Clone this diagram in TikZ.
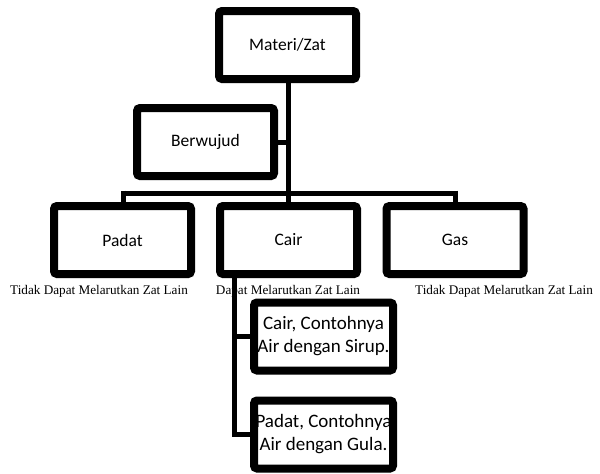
\documentclass[tikz,border=0pt]{standalone}
\usepackage{fontspec}
\setmainfont{Liberation Serif}
\newfontfamily\calfont{Carlito}
\usetikzlibrary{shadows.blur}
\tikzset{
  box/.style={draw=black, fill=white, line width=8pt, rounded corners=3pt,
    minimum width=137pt, minimum height=68pt, inner sep=0pt,
    font=\calfont\fontsize{17.5}{21}\selectfont,
    blur shadow={shadow xshift=1.5pt, shadow yshift=-2.5pt, shadow opacity=30, shadow blur steps=6}},
  subbox/.style={box, minimum width=139pt, font=\calfont\fontsize{19}{23}\selectfont, align=center},
  conn/.style={draw=black, line width=5pt},
  note/.style={font=\fontsize{13.2}{15}\selectfont, inner sep=0pt, anchor=base}
}
\begin{document}
\begin{tikzpicture}[x=1pt,y=-1pt]
\useasboundingbox (0,0) rectangle (600,474);
% notes below boxes
\node[note] (t1) at (99,294) {Tidak Dapat Melarutkan Zat Lain};
\node[note] (t2) at (288,294) {Dapat Melarutkan Zat Lain};
\node[note] (t3) at (504,294) {Tidak Dapat Melarutkan Zat Lain};
% coordinates of connectors
\coordinate (bl) at (123,193);
\coordinate (br) at (455,193);
\coordinate (tb) at (288,193);
\coordinate (tw) at (288,142);
\coordinate (cb) at (234,278);
\coordinate (c1) at (234,336.5);
\coordinate (c2) at (234,434.5);
% connectors
\draw[conn] (288,80) -- (288,205);
\draw[conn] (278,142) -- (tw);
\draw[conn] (bl) -- (br);
\draw[conn] (123,190.5) -- (123,205);
\draw[conn] (455,190.5) -- (455,205);
\draw[conn] (cb) -- (234,437);
\draw[conn] (c1) -- (254,336.5);
\draw[conn] (c2) -- (254,434.5);
% boxes
\node[box] (m) at (287.5,45) {Materi/Zat};
\node[box] (b) at (205.5,142) {Berwujud};
\node[box] (p) at (122.5,240) {Padat};
\node[box] (c) at (288.5,240) {Cair};
\node[box] (g) at (455,240) {Gas};
\node[subbox] (s1) at (323.5,336.5) {Cair, Contohnya\\Air dengan Sirup.};
\node[subbox] (s2) at (323.5,434.5) {Padat, Contohnya\\Air dengan Gula.};
\end{tikzpicture}
\end{document}
